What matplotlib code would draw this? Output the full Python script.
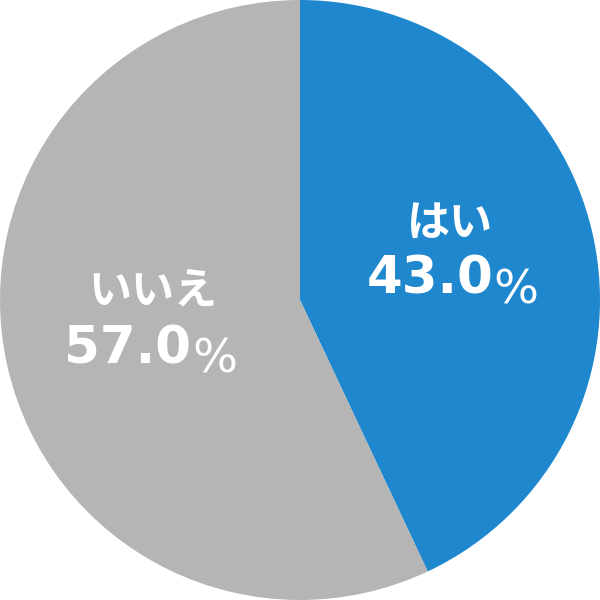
import matplotlib
matplotlib.use("Agg")
import matplotlib.pyplot as plt

# chart data
labels = ["はい", "いいえ"]
shares = [43.0, 57.0]
colors = ["#1E87CD", "#B5B5B5"]

# label placement (axes data coords, radius 1)
kana_pos = [(0.50, 0.257), (-0.49, 0.033)]
num_pos = [(0.645, 0.02), (-0.365, -0.21)]
pct_pos = [(0.645, -0.01), (-0.358, -0.243)]

fig = plt.figure(figsize=(6, 6), dpi=100)
ax = fig.add_axes([0, 0, 1, 1])
ax.pie(shares, colors=colors, startangle=90, counterclock=False, radius=1.0,
       wedgeprops=dict(linewidth=0))
ax.set_xlim(-1, 1)
ax.set_ylim(-1, 1)
ax.set_aspect("equal")
ax.axis("off")

for i, lab in enumerate(labels):
    kx, ky = kana_pos[i]
    ax.text(kx, ky, lab, color="white", fontsize=31, fontweight="bold",
            family=["Noto Sans CJK JP", "DejaVu Sans"], ha="center", va="center")
    nx, ny = num_pos[i]
    ax.text(nx, ny, f"{shares[i]:.1f}", color="white", fontsize=37,
            fontweight="bold", family="DejaVu Sans", ha="right", va="baseline")
    px, py = pct_pos[i]
    ax.text(px, py, "%", color="white", fontsize=34, family="DejaVu Sans",
            ha="left", va="baseline")

fig.savefig("out.png", dpi=100)
